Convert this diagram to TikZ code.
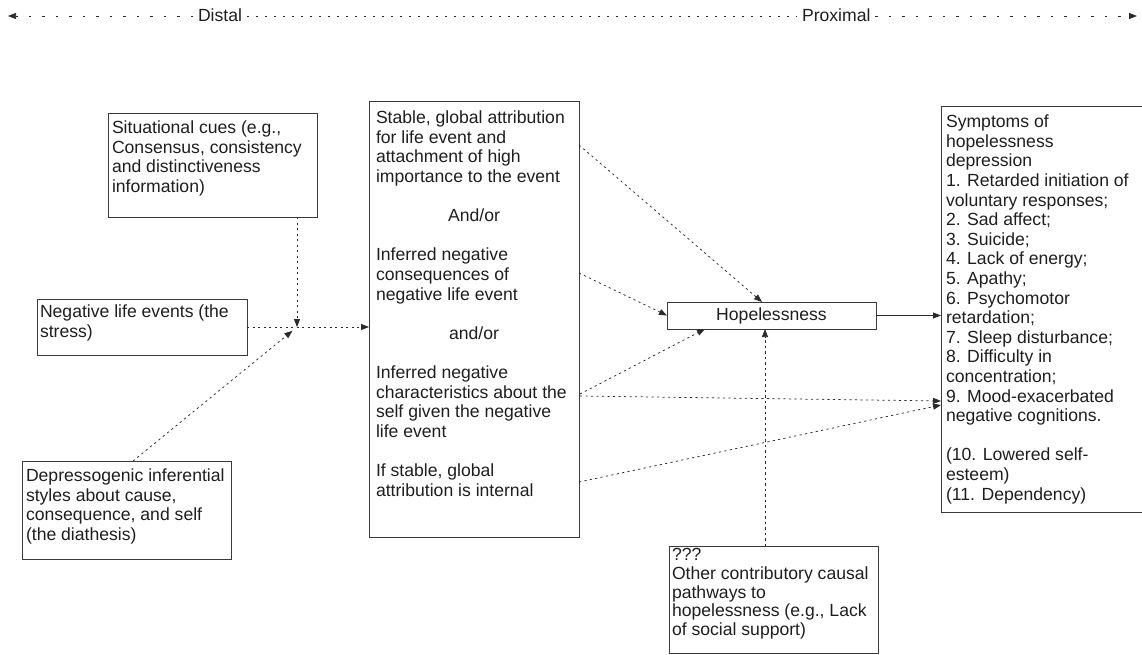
\documentclass[tikz,border=0pt]{standalone}
\usepackage{fontspec}
\setmainfont{Liberation Sans}
\usetikzlibrary{arrows.meta,calc}
\definecolor{boxcol}{HTML}{3A3A3A}
\definecolor{linecol}{HTML}{2A2A2A}
\definecolor{txtcol}{HTML}{1E1E1E}
\newcommand{\fsz}{\fontsize{17.6}{19.6}\selectfont}
\begin{document}
\begin{tikzpicture}[x=1pt,y=-1pt,
  box/.style={draw=boxcol, line width=0.9pt, inner sep=0pt, outer sep=0pt, anchor=north west},
  txt/.style={inner sep=0pt, outer sep=0pt, anchor=north west, align=left, font=\fsz, text=txtcol},
  lbl/.style={inner sep=0pt, outer sep=5pt, anchor=base west, font=\fsz, text=txtcol},
  conn/.style={draw=linecol, line width=0.75pt, dash pattern=on 2.2pt off 3.3pt},
  topline/.style={draw=linecol, line width=0.75pt, dash pattern=on 2pt off 7pt},
  topouter/.style={draw=linecol, line width=0.75pt, dash pattern=on 2.5pt off 11pt},
  tip/.style={-{Triangle[length=8pt,width=6pt]}},
  solidconn/.style={draw=linecol, line width=0.9pt}]
\useasboundingbox (0,0) rectangle (1142,655);

% boxes
\node[box, minimum width=209pt, minimum height=104pt] (sit) at (108,113) {};
\node[box, minimum width=210pt, minimum height=56pt] (neg) at (37,299) {};
\node[box, minimum width=209pt, minimum height=98pt] (dep) at (22,461) {};
\node[box, minimum width=210pt, minimum height=436pt] (mid) at (369,101) {};
\node[box, minimum width=209pt, minimum height=27pt] (hop) at (667,302) {};
\node[box, minimum width=203pt, minimum height=406pt] (sym) at (941,106) {};
\node[box, minimum width=209pt, minimum height=107pt] (oth) at (669,546) {};

% texts
\node[txt] (sitT) at (112,121) {Situational cues (e.g.,\\Consensus, consistency\\and distinctiveness\\information)};
\node[txt] (negT) at (40,305) {Negative life events (the\\stress)};
\node[txt] (depT) at (26,469) {Depressogenic inferential\\styles about cause,\\consequence, and self\\(the diathesis)};
\node[txt] (midT) at (376,111) {Stable, global attribution\\for life event and\\attachment of high\\importance to the event\\[19.6pt]\makebox[196pt][c]{And/or}\\[19.6pt]Inferred negative\\consequences of\\negative life event\\[19.6pt]\makebox[196pt][c]{and/or}\\[19.6pt]Inferred negative\\characteristics about the\\self given the negative\\life event\\[19.6pt]If stable, global\\attribution is internal};
\node[txt] (symT) at (946,115) {Symptoms of\\hopelessness\\depression\\1. Retarded initiation of\\voluntary responses;\\2. Sad affect;\\3. Suicide;\\4. Lack of energy;\\5. Apathy;\\6. Psychomotor\\retardation;\\7. Sleep disturbance;\\8. Difficulty in\\concentration;\\9. Mood-exacerbated\\negative cognitions.\\[19.6pt](10. Lowered self-\\esteem)\\(11. Dependency)};
\node[txt, font=\fontsize{17.6}{18.9}\selectfont] (othT) at (672,548) {???\\Other contributory causal\\pathways to\\hopelessness (e.g., Lack\\of social support)};
\node[font=\fsz, text=txtcol, inner sep=0pt] (hopT) at (hop.center) {Hopelessness};

% top axis
\coordinate (L) at (8,16);
\coordinate (R) at (1137,16);
\node[lbl] (distal) at (193,22) {Distal};
\node[lbl] (prox) at (797,22) {Proximal};
\draw[topouter, tip] (distal.west |- L) -- (L);
\draw[topline] (distal.east |- L) -- (prox.west |- L);
\draw[topouter, tip] (prox.east |- R) -- (R);

% connectors
\coordinate (J) at (297,327);
\draw[conn, tip] (sit.south -| J) -- (J);
\draw[conn, tip] (neg.east) -- (neg.east -| mid.west);
\draw[conn, tip] ($(dep.north)+(6.5,0)$) -- ($(J)+(-4.6,3.8)$);

\draw[conn, tip] ($(mid.north east)+(0,44)$) -- ($(hop.north west)+(95,0)$);
\draw[conn, tip] ($(mid.north east)+(0,172)$) -- (hop.west);
\draw[conn, tip] ($(mid.north east)+(1,293)$) -- ($(hop.south west)+(38,0)$);
\draw[conn, tip] ($(mid.north east)+(1,295)$) -- ($(sym.north west)+(0,295)$);
\draw[conn, tip] ($(mid.north east)+(0,381)$) -- ($(sym.north west)+(0,299)$);
\draw[conn, tip] ($(oth.north west)+(96,0)$) -- ($(hop.south west)+(98,0)$);
\draw[solidconn, tip] (hop.east) -- (hop.east -| sym.west);
\end{tikzpicture}
\end{document}
